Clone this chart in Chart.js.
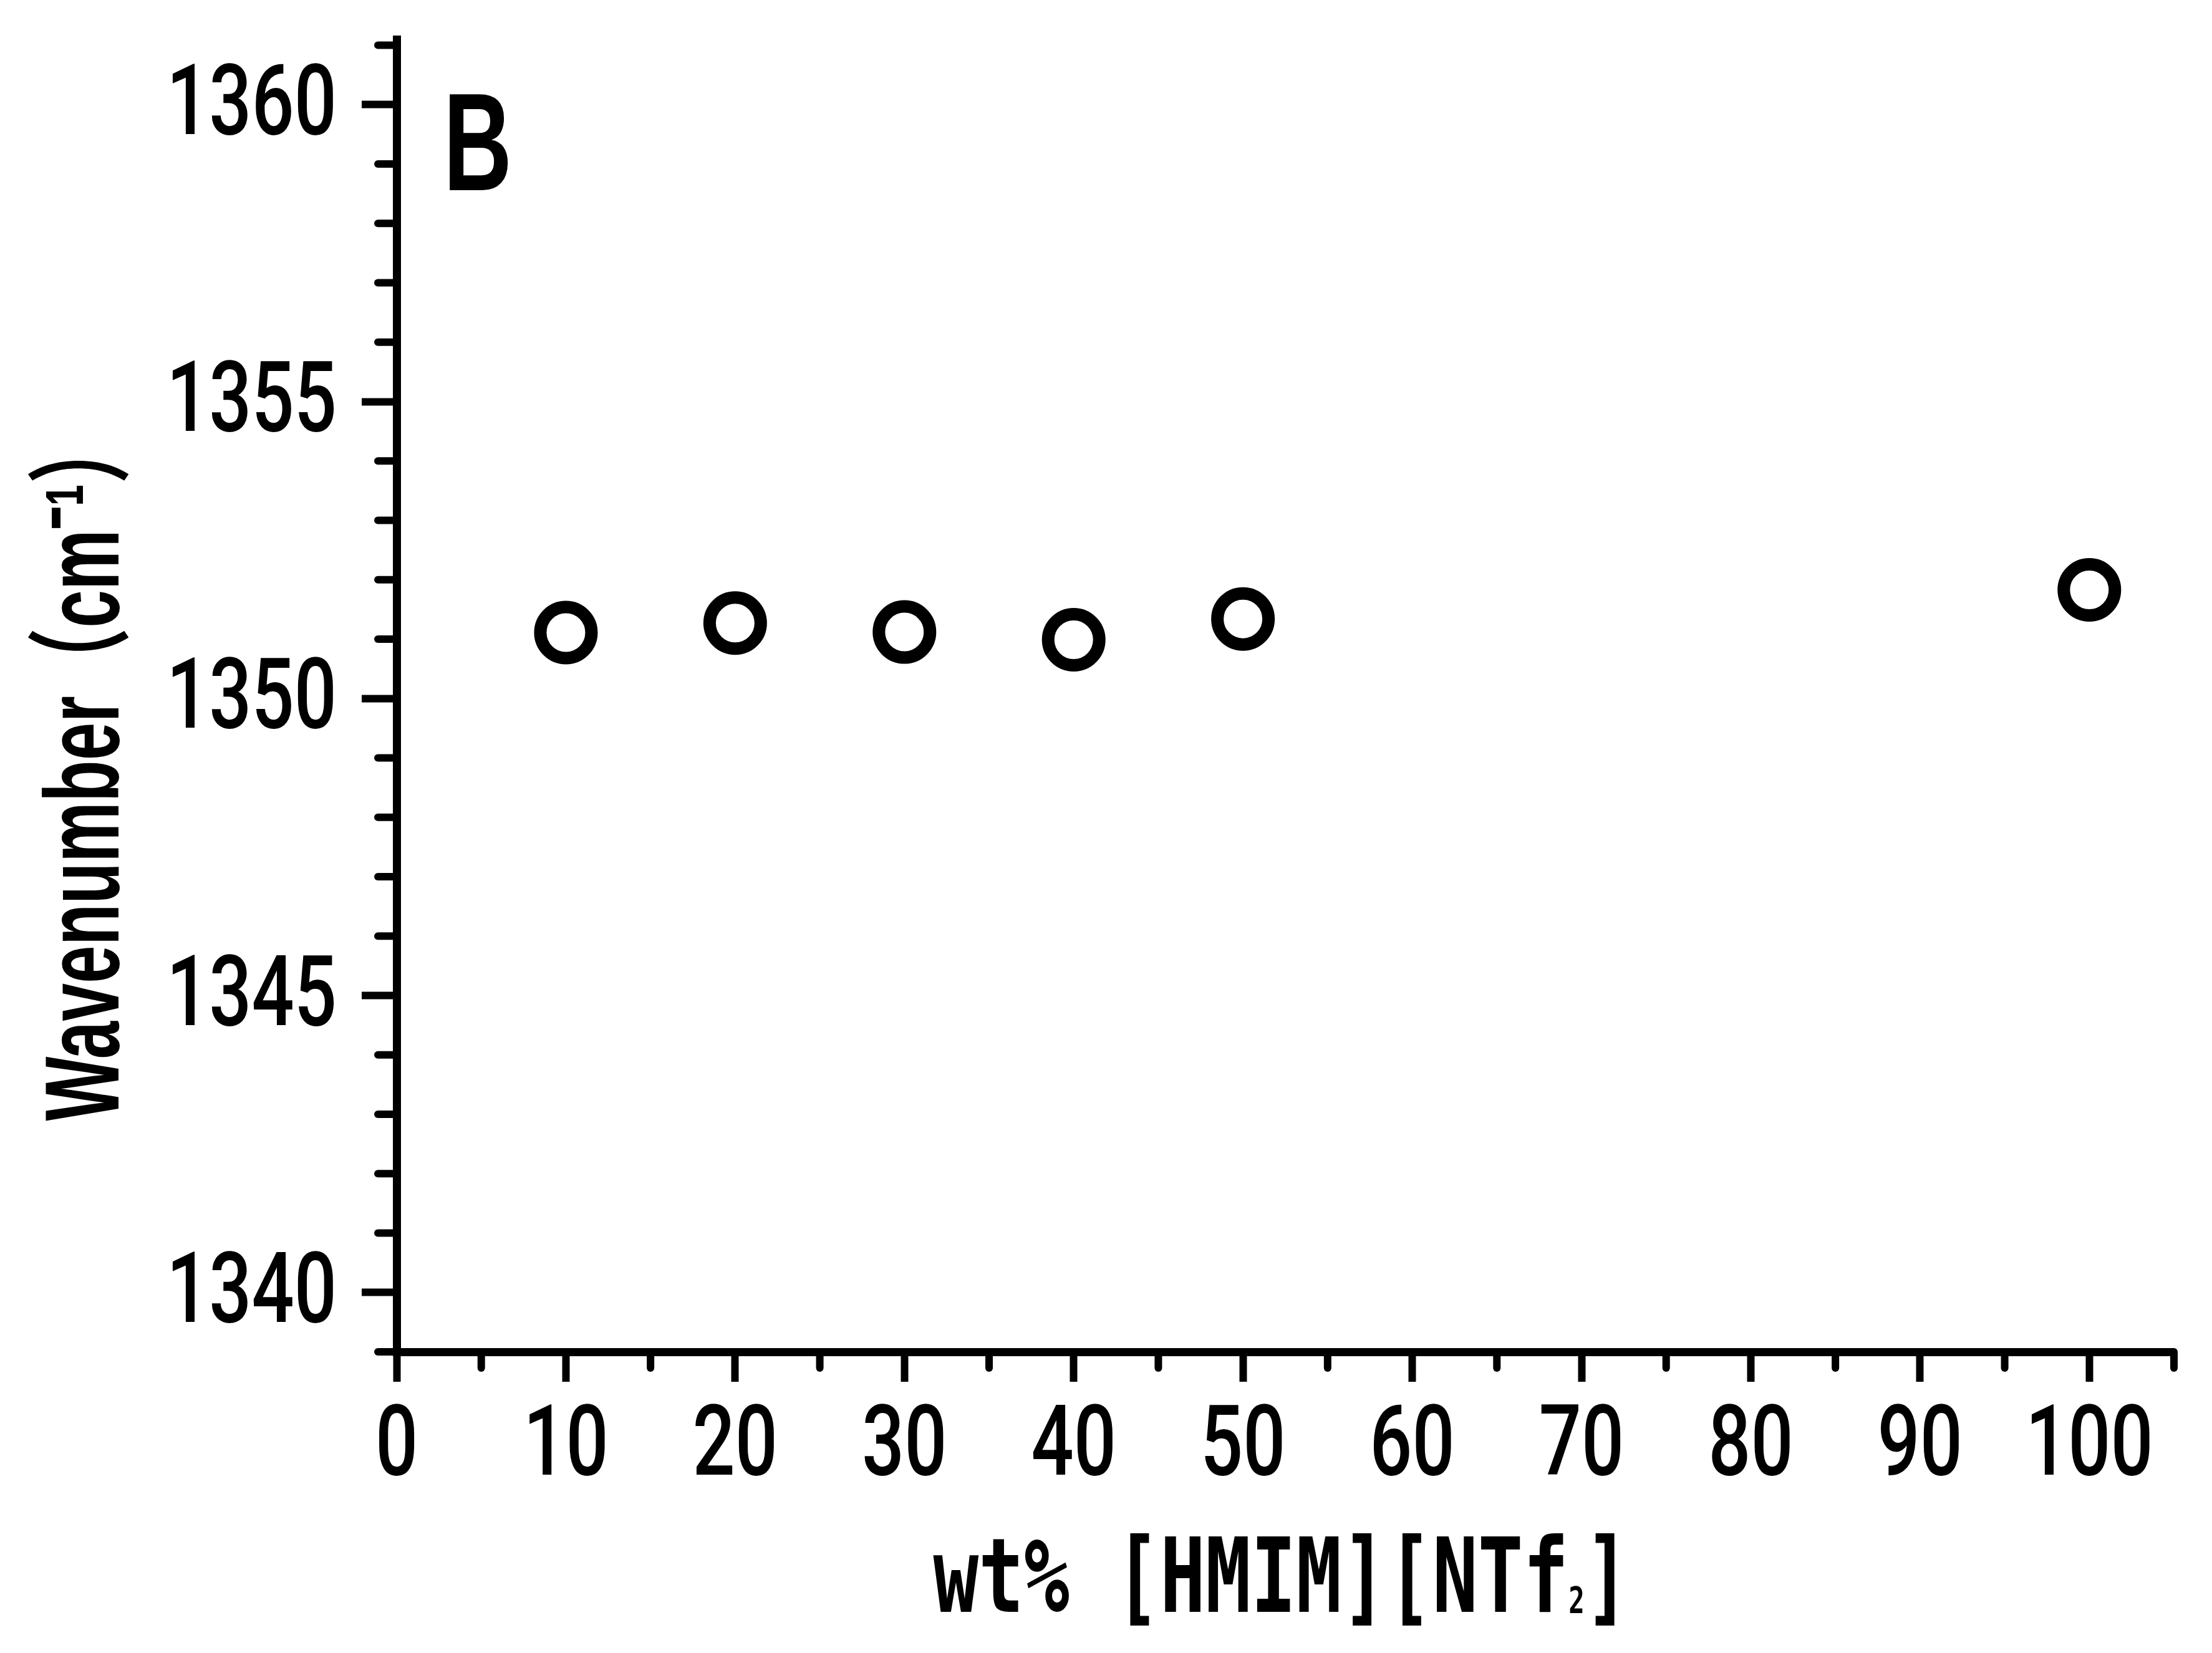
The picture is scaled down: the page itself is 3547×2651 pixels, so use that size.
<!DOCTYPE html>
<html>
<head>
<meta charset="utf-8">
<script src="https://cdn.jsdelivr.net/npm/chart.js@4.4.1/dist/chart.umd.min.js"></script>
<style>
  html, body { margin: 0; padding: 0; background: #fff; }
  #wrap { width: 3547px; height: 2651px; }
</style>
</head>
<body>
<div id="wrap"><canvas id="myGraph" width="3547" height="2651"></canvas></div>
<script>
const wtPercent = [10, 20, 30, 40, 50, 100];
const wavenumber = [1351.11, 1351.27, 1351.12, 1350.99, 1351.34, 1351.83];
const xTicks = [0, 10, 20, 30, 40, 50, 60, 70, 80, 90, 100];
const xMinorTicks = [5, 15, 25, 35, 45, 55, 65, 75, 85, 95, 105];
const yTicks = [1340, 1345, 1350, 1355, 1360];
const yMinorTicks = [1339, 1341, 1342, 1343, 1344, 1346, 1347, 1348, 1349, 1351, 1352, 1353, 1354, 1356, 1357, 1358, 1359, 1361];
const xTitle = ["wt% [HMIM][NTf", "2", "]"];
const yTitle = "Wavenumber（cm⁻¹）";
const panelLabel = "B";

const sans = '"Liberation Sans", Arial, sans-serif';
const labelFont = '500 158px Roboto, "Liberation Sans", sans-serif';
const labelSqueeze = 0.76;

// squeezed text, anchored by align ("left" | "center" | "right")
function drawSqueezed(ctx, text, font, x, y, sx, align) {
  ctx.save();
  ctx.translate(x, y);
  ctx.scale(sx, 1);
  ctx.font = font;
  ctx.fillStyle = "#000";
  ctx.textAlign = align;
  ctx.textBaseline = "alphabetic";
  ctx.fillText(text, 0, 0);
  ctx.restore();
}

// draw text pieces squeezed horizontally to a target width, centred on x
function drawFitted(ctx, parts, x, y, targetW, rotate) {
  let total = 0;
  parts.forEach(p => { ctx.font = p.font; p.w = ctx.measureText(p.text).width; total += p.w; });
  ctx.save();
  ctx.translate(x, y);
  if (rotate) ctx.rotate(-Math.PI / 2);
  ctx.scale(targetW / total, 1);
  ctx.fillStyle = "#000";
  ctx.textBaseline = "alphabetic";
  ctx.textAlign = "left";
  let cx = -total / 2;
  parts.forEach(p => {
    ctx.font = p.font;
    ctx.fillText(p.text, cx, p.dy || 0);
    cx += p.w;
  });
  ctx.restore();
}

const extras = {
  id: "extras",
  afterDraw(chart) {
    const ctx = chart.ctx;
    const xs = chart.scales.x, ys = chart.scales.y;
    const area = chart.chartArea;
    ctx.save();
    ctx.strokeStyle = "#000";
    ctx.lineWidth = 12;
    ctx.lineCap = "round";
    // minor ticks
    xMinorTicks.forEach(v => {
      const px = xs.getPixelForValue(v);
      ctx.beginPath();
      ctx.moveTo(px, area.bottom);
      ctx.lineTo(px, area.bottom + 26);
      ctx.stroke();
    });
    yMinorTicks.forEach(v => {
      const py = ys.getPixelForValue(v);
      ctx.beginPath();
      ctx.moveTo(area.left, py);
      ctx.lineTo(area.left - 30, py);
      ctx.stroke();
    });
    ctx.restore();

    // tick labels from the scales' own ticks
    xs.ticks.forEach(t => {
      drawSqueezed(ctx, String(t.value), labelFont, xs.getPixelForValue(t.value), area.bottom + 197, labelSqueeze, "center");
    });
    ys.ticks.forEach(t => {
      drawSqueezed(ctx, String(t.value), labelFont, area.left - 96, ys.getPixelForValue(t.value) + 47, labelSqueeze, "right");
    });

    const mono = '"DejaVu Sans Mono", "Liberation Mono", monospace';
    drawFitted(ctx, [
      { text: xTitle[0], font: "bold 165px " + mono },
      { text: xTitle[1], font: "bold 58px " + mono, dy: 2 },
      { text: xTitle[2], font: "bold 165px " + mono }
    ], (area.left + area.right) / 2 - 6, 2585, 1117, false);

    drawFitted(ctx, [
      { text: yTitle, font: 'bold 168px "Liberation Sans", "Noto Sans CJK SC", sans-serif' }
    ], 190, 1232, 1131, true);

    drawFitted(ctx, [
      { text: panelLabel, font: "bold 222px " + sans }
    ], area.left + 130, 305, 110, false);
  }
};

new Chart(document.getElementById("myGraph"), {
  type: "scatter",
  data: {
    datasets: [{
      label: "Wavenumber",
      data: wtPercent.map((x, i) => ({ x: x, y: wavenumber[i] })),
      pointStyle: "circle",
      pointRadius: 41,
      pointHoverRadius: 41,
      pointBorderWidth: 20,
      pointBorderColor: "#000",
      pointBackgroundColor: "rgba(255,255,255,0)",
      showLine: false
    }]
  },
  options: {
    responsive: false,
    animation: false,
    devicePixelRatio: 1,
    layout: { padding: { top: 63, right: 55, left: 0, bottom: 0 } },
    plugins: { legend: { display: false }, tooltip: { enabled: false }, title: { display: false } },
    scales: {
      x: {
        type: "linear",
        min: 0,
        max: 105,
        afterBuildTicks: s => { s.ticks = xTicks.map(v => ({ value: v })); },
        afterFit: s => { s.height = 483; },
        border: { display: true, color: "#000", width: 13 },
        grid: { drawOnChartArea: false, drawTicks: true, tickLength: 48, tickWidth: 12, tickColor: "#000" },
        ticks: { display: false }
      },
      y: {
        type: "linear",
        min: 1339,
        max: 1361.1,
        afterBuildTicks: s => { s.ticks = yTicks.map(v => ({ value: v })); },
        afterFit: s => { s.width = 636; },
        border: { display: true, color: "#000", width: 13 },
        grid: { drawOnChartArea: false, drawTicks: true, tickLength: 56, tickWidth: 12, tickColor: "#000" },
        ticks: { display: false }
      }
    }
  },
  plugins: [extras]
});
</script>
</body>
</html>
